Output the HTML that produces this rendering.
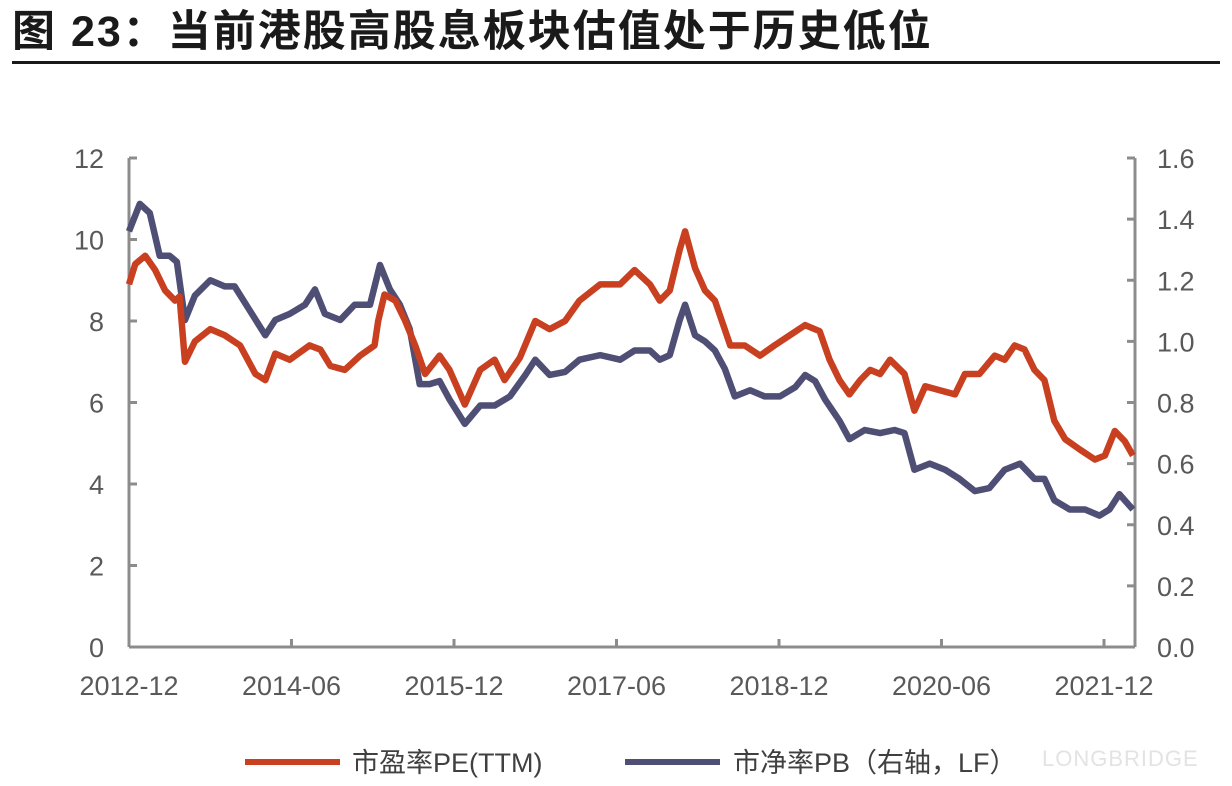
<!DOCTYPE html>
<html><head><meta charset="utf-8">
<style>
html,body{margin:0;padding:0;background:#fff;}
body{width:1232px;height:786px;overflow:hidden;position:relative;font-family:"Liberation Sans","Noto Sans CJK SC",sans-serif;}
#title{position:absolute;left:12px;top:-3px;font-size:43px;font-weight:bold;color:#1a1a1a;letter-spacing:2px;white-space:nowrap;}
#rule{position:absolute;left:12px;top:61px;width:1208px;height:3px;background:#1a1a1a;}
svg{position:absolute;left:0;top:0;}
</style></head><body>
<div id="title">图 23：当前港股高股息板块估值处于历史低位</div>
<div id="rule"></div>
<svg id="chart" width="1232" height="786"></svg>
<script>
const xTickLabels=["2012-12","2014-06","2015-12","2017-06","2018-12","2020-06","2021-12"];
const xTickMonths=[0,18,36,54,72,90,108];
const leftTicks=[0,2,4,6,8,10,12];
const rightTicks=["0.0","0.2","0.4","0.6","0.8","1.0","1.2","1.4","1.6"];
const peMonths=[0,0.7,1.8,2.9,4,5.1,5.6,6.2,7.3,9,10.6,12.3,14,15.1,16.2,17.8,20,21.2,22.3,23.9,25.6,27.2,27.6,28.3,29.5,30.6,31.7,32.8,34.4,35.5,37.2,38.9,40.5,41.6,43.3,45,46.6,48.3,49.9,52.2,54.4,56,57.7,58.8,59.9,61,61.6,62.7,63.8,64.9,66.6,68.2,69.9,71.5,73.2,74.9,76.5,77.6,78.7,79.8,81,82.1,83.2,84.3,85.9,87,88.2,89.8,91.5,92.6,94.2,95.9,97,98.1,99.2,100.3,101.4,102.5,103.7,105.3,107,108.1,109.2,110.3,111.2];
const peValues=[8.9,9.4,9.6,9.25,8.75,8.5,8.6,7.0,7.5,7.8,7.65,7.4,6.7,6.55,7.2,7.05,7.4,7.3,6.9,6.8,7.15,7.4,8.0,8.65,8.5,8.0,7.4,6.7,7.15,6.8,5.95,6.8,7.05,6.55,7.1,8.0,7.8,8.0,8.5,8.9,8.9,9.25,8.9,8.5,8.75,9.75,10.2,9.3,8.75,8.5,7.4,7.4,7.15,7.4,7.65,7.9,7.75,7.05,6.55,6.2,6.55,6.8,6.7,7.05,6.7,5.8,6.4,6.3,6.2,6.7,6.7,7.15,7.05,7.4,7.3,6.8,6.55,5.55,5.1,4.85,4.6,4.7,5.3,5.05,4.7];
const pbMonths=[0,1.2,2.3,3.4,4.5,5.3,6.2,7.3,9,10.6,11.7,13.4,15.1,16.2,17.8,19.5,20.6,21.7,23.4,25,26.7,27.8,28.9,30,31.1,32.2,33.3,34.4,35.5,37.2,38.9,40.5,42.2,43.9,45,46.6,48.3,49.9,52.2,54.4,56,57.7,58.8,59.9,61,61.6,62.7,63.8,64.9,66,67.1,68.8,70.4,72.1,73.8,74.9,76,77.1,78.7,79.8,81.5,83.2,84.8,85.9,87,88.7,90.4,92,93.7,95.3,97,98.7,100.3,101.4,102.5,104.2,105.9,107.5,108.6,109.7,111.2];
const pbValues=[1.36,1.45,1.42,1.28,1.28,1.26,1.07,1.15,1.2,1.18,1.18,1.1,1.02,1.07,1.09,1.12,1.17,1.09,1.07,1.12,1.12,1.25,1.17,1.12,1.04,0.86,0.86,0.87,0.81,0.73,0.79,0.79,0.82,0.89,0.94,0.89,0.90,0.94,0.955,0.94,0.97,0.97,0.94,0.955,1.07,1.12,1.02,1.0,0.97,0.91,0.82,0.84,0.82,0.82,0.85,0.89,0.87,0.81,0.74,0.68,0.71,0.70,0.71,0.70,0.58,0.60,0.58,0.55,0.51,0.52,0.58,0.60,0.55,0.55,0.48,0.45,0.45,0.43,0.45,0.50,0.45];

const NS="http://www.w3.org/2000/svg";
const svg=document.getElementById('chart');
const X0=129,X1=1135,Y0=647,YT=158,MPX=162.5/18;
const xs=m=>X0+m*MPX;
const yL=v=>Y0-(v/12)*(Y0-YT);
const yR=v=>Y0-(v/1.6)*(Y0-YT);
function mk(tag,attrs){const e=document.createElementNS(NS,tag);for(const k in attrs)e.setAttribute(k,attrs[k]);svg.appendChild(e);return e;}

let a=mk('line',{x1:X0,y1:YT,x2:X0,y2:Y0,stroke:'#8c8c8c','stroke-width':3});


a=mk('line',{x1:X1,y1:YT,x2:X1,y2:Y0,stroke:'#8c8c8c','stroke-width':3});


a=mk('line',{x1:X0,y1:Y0,x2:X1,y2:Y0,stroke:'#8c8c8c','stroke-width':3});



leftTicks.forEach(v=>{
  const y=yL(v);
  const t=mk('line',{x1:X0,y1:y,x2:X0+8,y2:y,stroke:'#8c8c8c','stroke-width':3});
  
  
  const l=mk('text',{x:104,y:y+10,'text-anchor':'end','font-size':27,fill:'#595959'});
  l.textContent=v;
  
  
});
rightTicks.forEach(v=>{
  const y=yR(parseFloat(v));
  const t=mk('line',{x1:X1-8,y1:y,x2:X1,y2:y,stroke:'#8c8c8c','stroke-width':3});
  
  
  const l=mk('text',{x:1157,y:y+10,'font-size':27,fill:'#595959'});
  l.textContent=v;
  
  
});
xTickMonths.forEach((m,i)=>{
  const x=xs(m);
  const t=mk('line',{x1:x,y1:Y0-8,x2:x,y2:Y0,stroke:'#8c8c8c','stroke-width':3});
  
  
  const l=mk('text',{x:x,y:695,'text-anchor':'middle','font-size':27,fill:'#595959'});
  l.textContent=xTickLabels[i];
  
  
});

const pb=mk('polyline',{points:pbMonths.map((m,i)=>xs(m)+','+yR(pbValues[i])).join(' '),fill:'none',stroke:'#4f4f75','stroke-width':6.5,'stroke-linejoin':'round'});


const pe=mk('polyline',{points:peMonths.map((m,i)=>xs(m)+','+yL(peValues[i])).join(' '),fill:'none',stroke:'#c8401f','stroke-width':6.5,'stroke-linejoin':'round'});



let g=mk('line',{x1:245,y1:762,x2:340,y2:762,stroke:'#c8401f','stroke-width':6});


g=mk('text',{x:352,y:772,'font-size':27,fill:'#404040'});
g.textContent='市盈率PE(TTM)';


g=mk('line',{x1:625,y1:762,x2:720,y2:762,stroke:'#4f4f75','stroke-width':6});


g=mk('text',{x:733,y:772,'font-size':27,fill:'#404040'});
g.textContent='市净率PB（右轴，LF）';


g=mk('text',{x:1042,y:766,'font-size':22,fill:'#e3e3e3','letter-spacing':1});
g.textContent='LONGBRIDGE';


</script>
</body></html>
